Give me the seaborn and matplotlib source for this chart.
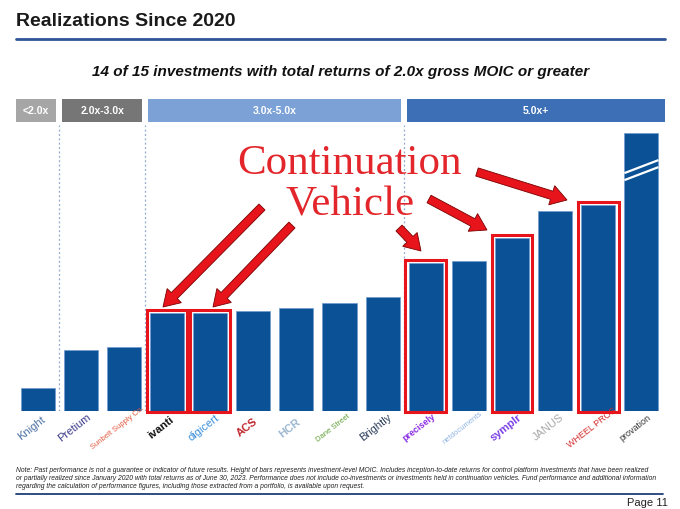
import matplotlib
matplotlib.use('Agg')
import matplotlib.pyplot as plt
from matplotlib.patches import Rectangle, FancyArrow
import seaborn as sns
import pandas as pd

# Chart data (bar heights, in MOIC units)
companies = ['Knight', 'Pretium', 'Sunbelt Supply Co.', 'ivanti', 'digicert', 'ACS', 'HCR',
             'Dane Street', 'Brightly', 'precisely', 'netdocuments', 'symplr', 'JANUS',
             'WHEEL PROS', 'provation']
moic = [0.88, 2.35, 2.46, 3.77, 3.77, 3.85, 3.96, 4.15, 4.38, 5.69, 5.77, 6.65, 7.69, 7.92, 10.7]
continuation = ['ivanti', 'digicert', 'precisely', 'symplr', 'WHEEL PROS']
logo_colors = ['#4a6fa5', '#3a3a8c', '#e2583e', '#111111', '#3b8fd9', '#c0272d', '#9ab6cf',
               '#5f9e35', '#2b3e5c', '#8a2be2', '#8fb4e3', '#7b3fe4', '#a8a8a8', '#d42a2a', '#333333']

# Return bands: label, first bar, last bar, colour
band_labels = ['<2.0x', '2.0x-3.0x', '3.0x-5.0x', '5.0x+']
band_start = [0, 1, 3, 9]
band_end = [0, 2, 8, 14]
band_colors = ['#a6a6a6', '#767676', '#7ba1d6', '#3d6fb6']

title = 'Realizations Since 2020'
subtitle = '14 of 15 investments with total returns of 2.0x gross MOIC or greater'
footnote = ('Note: Past performance is not a guarantee or indicator of future results. Height of bars represents '
            'investment-level MOIC. Includes inception-to-date returns for control platform investments that have been realized\n'
            'or partially realized since January 2020 with total returns as of June 30, 2023. Performance does not include '
            'co-investments or investments held in continuation vehicles. Fund performance and additional information\n'
            'regarding the calculation of performance figures, including those extracted from a portfolio, is available upon request.')

W, H = 680, 509
bar_color = '#0b5196'
red = '#e8141b'

sns.set_style('white')
plt.rcParams['font.family'] = ['Liberation Sans', 'DejaVu Sans']

fig = plt.figure(figsize=(W / 100, H / 100), dpi=100)
ax = fig.add_axes([16 / W, (H - 411) / H, (663 - 16) / W, 313 / H])

df = pd.DataFrame({'company': companies, 'moic': moic})
sns.barplot(data=df, x='company', y='moic', order=companies, color=bar_color, saturation=1,
            width=0.79, edgecolor='#6f9bd1', linewidth=0.5, ax=ax)
ax.set_xlim(-0.5, len(companies) - 0.5)
ax.set_ylim(0, 313 / 26)
ax.set_axis_off()

# band headers and dotted separators
for lab, s, e, c in zip(band_labels, band_start, band_end, band_colors):
    x0 = s - 0.5 + (0.0 if s == 0 else 0.07)
    x1 = e + 0.5 + (0.05 if e == len(companies) - 1 else -0.07)
    ax.add_patch(Rectangle((x0, 0.923), x1 - x0, 0.074, transform=ax.get_xaxis_transform(),
                           facecolor=c, edgecolor='none', clip_on=False))
    ax.text((x0 + x1) / 2, 0.96, lab, transform=ax.get_xaxis_transform(), ha='center', va='center',
            color='white', fontsize=7.5, fontweight='bold')
    if s > 0:
        ax.plot([s - 0.5, s - 0.5], [0, 0.914], transform=ax.get_xaxis_transform(),
                color='#8fa9cc', lw=0.9, ls=(0, (1.5, 2)))

# red boxes around continuation vehicle bars
for i, (name, v) in enumerate(zip(companies, moic)):
    if name in continuation:
        ax.add_patch(Rectangle((i - 0.47, -0.02), 0.94, v + 0.14, fill=False, edgecolor=red,
                               lw=2.2, clip_on=False, zorder=5))

# break marks on the tallest bar
i_top = len(companies) - 1
for off in (0.0, 0.27):
    ax.plot([i_top - 0.395, i_top + 0.395], [8.88 + off, 9.38 + off], color='white', lw=1.6,
            solid_capstyle='butt', zorder=4)

# company "logos" as rotated names
for i, (name, c) in enumerate(zip(companies, logo_colors)):
    fs = 5.5 if len(name) > 10 else (6.5 if len(name) > 8 else 8)
    ax.text(i - 0.15, -0.65, name, rotation=38, ha='center', va='center', color=c, fontsize=fs,
            fontweight='bold' if name in ('ivanti', 'HCR', 'ACS', 'precisely', 'symplr') else 'normal',
            clip_on=False)

# header
fig.text(16 / W, 1 - 21 / H, title, ha='left', va='center', fontsize=14, fontweight='bold',
         color='#1a1a1a')
fig.add_artist(plt.Line2D([16 / W, 665 / W], [1 - 39 / H, 1 - 39 / H], color='#2f5597', lw=2))
fig.text(341 / W, 1 - 72 / H, subtitle, ha='center', va='center', fontsize=11,
         fontweight='bold', style='italic', color='#111111')

# annotation
fig.text(350 / W, 1 - 164 / H, 'Continuation', ha='center', va='center', fontsize=31,
         color='#e3262b', family=['Liberation Serif', 'DejaVu Serif'])
fig.text(350 / W, 1 - 205 / H, 'Vehicle', ha='center', va='center', fontsize=31,
         color='#e3262b', family=['Liberation Serif', 'DejaVu Serif'])

arrows = [((262, 207), (163, 307)), ((292, 225), (213, 307)), ((399, 228), (421, 251)),
          ((429, 199), (487, 230)), ((477, 172), (567, 200))]
for (x0, y0), (x1, y1) in arrows:
    fig.add_artist(FancyArrow(x0 / 100, (H - y0) / 100, (x1 - x0) / 100, (y0 - y1) / 100,
                              width=0.085, head_width=0.2, head_length=0.16,
                              length_includes_head=True, facecolor=red, edgecolor='#7a0000',
                              lw=0.6, transform=fig.dpi_scale_trans))

# footer
fig.text(16 / W, 1 - 467 / H, footnote, ha='left', va='top', fontsize=4.9, style='italic',
         color='#222222', linespacing=1.2)
fig.add_artist(plt.Line2D([16 / W, 663 / W], [1 - 494 / H, 1 - 494 / H], color='#1f3f7a', lw=1.3))
fig.text(668 / W, 1 - 503 / H, 'Page 11', ha='right', va='center', fontsize=8, color='#222222')

fig.savefig('out.png', dpi=100)
